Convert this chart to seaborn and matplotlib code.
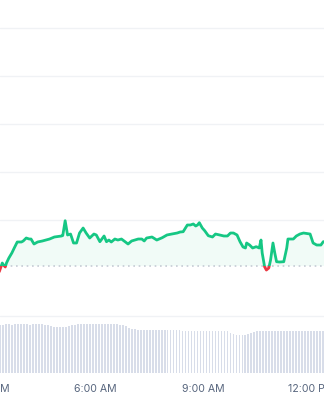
import numpy as np
import pandas as pd
import matplotlib
matplotlib.use("Agg")
import matplotlib.pyplot as plt
from matplotlib.patches import Rectangle
import matplotlib.transforms as mtransforms
import seaborn as sns

# ---- data ----
# price: minutes since midnight, relative price level
price_minutes = [199, 204, 206, 209, 211, 215, 220, 224, 229, 236, 239, 244, 249, 252, 257,
                 263, 271, 283, 291, 303, 305, 309, 313, 318, 323, 328, 333, 339, 344, 350,
                 357, 361, 367, 374, 378, 382, 386, 392, 397, 403, 409, 414, 420, 431, 437,
                 441, 445, 454, 462, 471, 479, 487, 496, 501, 506, 513, 518, 523, 527, 530,
                 533, 538, 542, 548, 555, 560, 567, 574, 580, 585, 590, 596, 601, 606, 610,
                 612, 617, 622, 628, 633, 636, 638, 642, 645, 649, 652, 656, 659, 662, 667,
                 674, 679, 681, 690, 695, 701, 707, 718, 723, 729, 736, 740, 747]
price_values = [-0.077, 0.104, 0.063, 0.021, 0.104, 0.208, 0.313, 0.417, 0.542, 0.542, 0.563,
                0.625, 0.604, 0.604, 0.500, 0.542, 0.563, 0.604, 0.646, 0.667, 0.677, 0.985,
                0.688, 0.708, 0.521, 0.521, 0.729, 0.833, 0.729, 0.625, 0.708, 0.688, 0.548,
                0.667, 0.548, 0.583, 0.542, 0.604, 0.583, 0.604, 0.548, 0.500, 0.563, 0.604,
                0.604, 0.563, 0.625, 0.646, 0.583, 0.631, 0.688, 0.708, 0.729, 0.750, 0.756,
                0.896, 0.896, 0.917, 0.875, 0.896, 0.944, 0.833, 0.777, 0.673, 0.646, 0.708,
                0.688, 0.667, 0.667, 0.729, 0.729, 0.688, 0.548, 0.438, 0.417, 0.521, 0.479,
                0.417, 0.444, 0.417, 0.583, 0.313, 0.027, -0.042, 0.000, 0.167, 0.521, 0.313,
                0.131, 0.125, 0.131, 0.417, 0.604, 0.604, 0.667, 0.708, 0.729, 0.708, 0.521,
                0.479, 0.479, 0.548, 0.548]
open_value = 0.042

# volume: 5-minute bars
vol_minutes = list(range(200, 745, 5))
vol_values = [48, 48,
              49, 49, 48.5, 49, 49, 49, 49, 49, 48.5, 49, 49, 49, 49, 48.5, 48.5,
              47, 46.5, 46, 46, 46, 46.5, 47, 48,
              48.5, 49, 49, 49, 49, 49, 49, 49, 49, 49, 49, 49, 49, 49, 49, 48.5,
              48, 47,
              45, 44.5, 44, 43.5, 43.5,
              43, 43, 43, 43, 43, 43, 43, 43, 43, 43, 43, 43, 43, 42.5, 42.5, 42.5, 42.5,
              42.5, 42.5, 42.5,
              42, 42, 42, 42, 42, 42, 42, 42, 42,
              40, 39, 38.5, 38.5, 38.5, 38.5, 39, 40,
              41.5, 42, 42, 42, 42, 42,
              42.5, 42.5, 42.5, 42.5, 42.5, 42.5, 42.5, 42.5, 42.5, 42.5, 42.5, 42.5,
              42.5, 42.5, 42.5, 42.5, 42.5, 42.5]

tick_minutes = [180, 360, 540, 720]
tick_labels = ["3:00 AM", "6:00 AM", "9:00 AM", "12:00 PM"]
grid_values = [-1, 1, 2, 3, 4, 5]

# ---- style ----
GREEN = "#16c784"
RED = "#ea3943"
GRID = "#f0f2f5"
TEXT = "#58667e"
VOL = "#d8dde9"

sns.set_theme(style="white")
plt.rcParams["font.family"] = ["Inter", "DejaVu Sans"]

fig = plt.figure(figsize=(3.24, 4.0), dpi=100)
fig.patch.set_facecolor("white")
ax = fig.add_axes([0, 80 / 400, 1, 320 / 400])
axv = fig.add_axes([0, 27 / 400, 1, 51 / 400])

xmin, xmax = 200.2, 741.2

# grid lines
for g in grid_values:
    ax.axhline(g, color=GRID, lw=1.0, zorder=0)

# fills
pm = np.array(price_minutes, dtype=float)
pv = np.array(price_values, dtype=float)
ax.fill_between(pm, pv, open_value, where=pv >= open_value, interpolate=True,
                color=GREEN, alpha=0.06, lw=0, zorder=1)
ax.fill_between(pm, pv, open_value, where=pv < open_value, interpolate=True,
                color=RED, alpha=0.06, lw=0, zorder=1)

# baseline (open)
ax.axhline(open_value, color="#c5cbd4", lw=1.2, ls=(0, (1, 2.2)), zorder=2)

# price line: green above open, red below
df = pd.DataFrame({"t": price_minutes, "p": price_values})
sns.lineplot(data=df, x="t", y="p", color=GREEN, lw=2.0, ax=ax, zorder=3)
ln_g = ax.lines[-1]
ln_g.set_solid_joinstyle("round")
ln_g.set_solid_capstyle("round")
ln_g.set_clip_path(Rectangle((0, open_value), 2000, 100, transform=ax.transData))
sns.lineplot(data=df, x="t", y="p", color=RED, lw=2.0, ax=ax, zorder=3)
ln_r = ax.lines[-1]
ln_r.set_solid_joinstyle("round")
ln_r.set_solid_capstyle("round")
ln_r.set_clip_path(Rectangle((0, open_value - 100), 2000, 100, transform=ax.transData))

ax.set_xlim(xmin, xmax)
ax.set_ylim(-1.083, 5.583)
ax.set_xlabel("")
ax.set_ylabel("")
ax.set_xticks([])
ax.set_yticks([])
for s in ax.spines.values():
    s.set_visible(False)
ax.patch.set_alpha(0)

# volume bars
vdf = pd.DataFrame({"t": vol_minutes, "v": vol_values})
sns.histplot(data=vdf, x="t", weights="v", binwidth=5, binrange=(197.5, 742.5),
             shrink=0.62, color=VOL, alpha=1, ax=axv)
for p in axv.patches:
    p.set_edgecolor("none")
    p.set_linewidth(0)
axv.set_xlim(xmin, xmax)
axv.set_ylim(0, 51)
axv.set_xlabel("")
axv.set_ylabel("")
axv.set_xticks([])
axv.set_yticks([])
for s in axv.spines.values():
    s.set_visible(False)
axv.patch.set_alpha(0)

# time labels
trans = mtransforms.blended_transform_factory(axv.transData, axv.transAxes)
for m, lab in zip(tick_minutes, tick_labels):
    axv.text(m, -16 / 51, lab, transform=trans, ha="center", va="center",
             fontsize=7.6, color=TEXT, clip_on=False)

fig.savefig("out.png", dpi=100, facecolor="white")
